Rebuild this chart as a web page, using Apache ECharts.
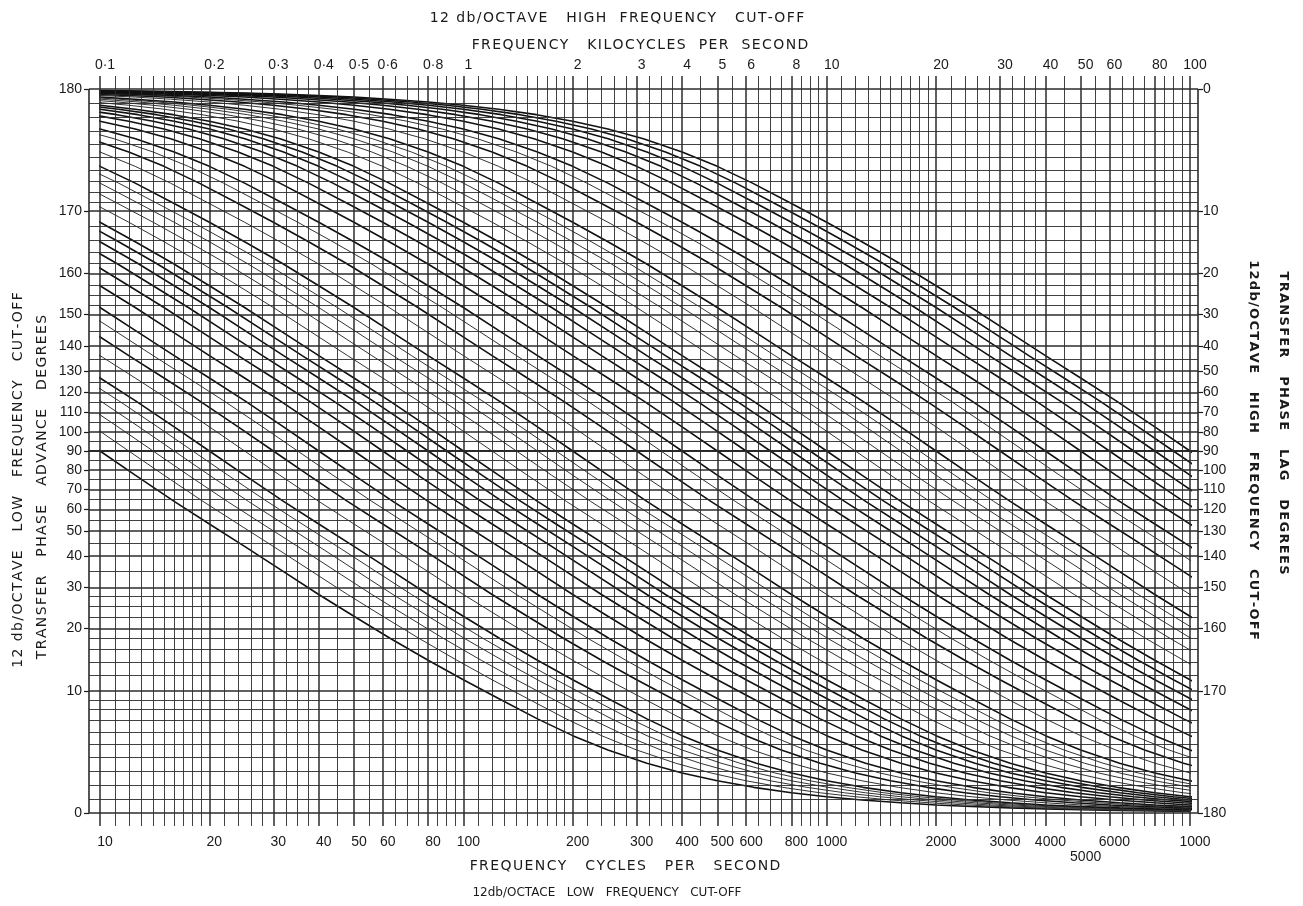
<!DOCTYPE html>
<html lang="en">
<head>
<meta charset="UTF-8">
<title>12 db/octave transfer phase chart</title>
<script src="https://cdn.jsdelivr.net/npm/echarts@6/dist/echarts.min.js"></script>
<style>
    html, body { margin: 0; padding: 0; background: #fff; }
    #chart { width: 1303px; height: 906px; }
</style>
</head>
<body>
<div id="chart"></div>
<script>
// phase axis of the sheet is not linear: where each labelled degree sits (90 deg = 0)
var phaseTicks = [0, 10, 20, 30, 40, 50, 60, 70, 80, 90, 100, 110, 120, 130, 140, 150, 160, 170, 180];
var phaseScale = [-362, -240, -177.5, -136.5, -105, -80, -58.5, -38.5, -19, 0, 19, 38.5, 58.5, 80, 105, 136.5, 177.5, 240, 362];

// horizontal rulings, degrees
var phaseRulings = [0, 1, 2, 3, 4, 5, 6, 7, 8, 9, 10, 12, 14, 16, 18, 20, 22.5, 25, 27.5, 30, 35, 40, 45, 50, 55,
    60, 65, 70, 75, 80, 85, 90, 95, 100, 105, 110, 115, 120, 125, 130, 135, 140, 145, 150, 152.5, 155, 157.5,
    160, 162, 164, 166, 168, 170, 171, 172, 173, 174, 175, 176, 177, 178, 179, 180];

// vertical rulings for one decade, c/s
var decadeRulings = [10, 11, 12, 13, 14, 15, 16, 17, 18, 19, 20, 22, 24, 26, 28, 30, 32.5, 35, 37.5,
    40, 45, 50, 55, 60, 65, 70, 75, 80, 85, 90, 95];

var bottomLabels = [10, 20, 30, 40, 50, 60, 80, 100, 200, 300, 400, 500, 600, 800, 1000,
    2000, 3000, 4000, 5000, 6000, 8000, 10000];
var topLabels = [0.1, 0.2, 0.3, 0.4, 0.5, 0.6, 0.8, 1, 2, 3, 4, 5, 6, 8, 10, 20, 30, 40, 50, 60, 80, 100];

// one curve: phase advance (deg) against f / cut-off
var shapeRatio = [0.001, 0.00125, 0.00159, 0.002, 0.0025, 0.00313, 0.004, 0.005, 0.00625, 0.008,
    0.01, 0.0125, 0.0159, 0.02, 0.025, 0.0313, 0.04, 0.05, 0.0625, 0.08,
    0.1, 0.125, 0.159, 0.2, 0.25, 0.3125, 0.4, 0.5, 0.625, 0.8,
    1, 1.25, 1.6, 2, 2.5, 3.2, 4, 5, 6.3, 8,
    10, 12.5, 16, 20, 25, 32, 40, 50, 63, 80,
    100, 125, 160, 200, 250, 320, 400, 500, 630, 800, 1000];
var shapePhase = [179.89, 179.86, 179.82, 179.77, 179.71, 179.64, 179.54, 179.43, 179.28, 179.08,
    178.85, 178.57, 178.18, 177.71, 177.14, 176.42, 175.42, 174.28, 172.85, 170.85,
    168.58, 165.75, 161.96, 157.38, 151.93, 145.29, 136.40, 126.87, 115.99, 102.68,
    90, 77.32, 64.01, 53.13, 43.60, 34.71, 28.07, 22.62, 18.04, 14.25,
    11.42, 9.15, 7.15, 5.72, 4.58, 3.58, 2.86, 2.29, 1.82, 1.43,
    1.15, 0.92, 0.72, 0.57, 0.46, 0.36, 0.29, 0.23, 0.18, 0.14, 0.11];

// cut-off frequency of every curve in the family, c/s
var cutoffs = [10, 12, 14, 16, 18, 20, 25, 30, 35, 40, 50, 60, 70, 80, 90,
    100, 120, 140, 160, 180, 200, 250, 300, 350, 400, 500, 600, 700, 800, 900,
    1000, 1200, 1400, 1600, 1800, 2000, 2500, 3000, 3500, 4000, 5000, 6000, 7000, 8000, 9000,
    10000];
var heavyCutoffs = [10, 20, 30, 40, 50, 60, 70, 80, 90, 100, 200, 300, 400, 500, 600, 700, 800, 900,
    1000, 2000, 3000, 4000, 5000, 6000, 7000, 8000, 9000, 10000];

// smooth (monotone cubic) reading of the phase scale between its labelled degrees
var scaleSlopes = (function () {
    var n = phaseTicks.length, d = [], m = [], i;
    for (i = 0; i < n - 1; i++) {
        d.push((phaseScale[i + 1] - phaseScale[i]) / (phaseTicks[i + 1] - phaseTicks[i]));
    }
    for (i = 1; i < n - 1; i++) m[i] = 2 * d[i - 1] * d[i] / (d[i - 1] + d[i]);
    m[0] = Math.max(d[0], (3 * d[0] - m[1]) / 2);
    m[n - 1] = Math.max(d[n - 2], (3 * d[n - 2] - m[n - 2]) / 2);
    return m;
})();

function toPos(p) {
    for (var i = 1; i < phaseTicks.length; i++) {
        if (p <= phaseTicks[i]) {
            var h = phaseTicks[i] - phaseTicks[i - 1];
            var t = (p - phaseTicks[i - 1]) / h;
            var t2 = t * t, t3 = t2 * t;
            return (2 * t3 - 3 * t2 + 1) * phaseScale[i - 1] + (t3 - 2 * t2 + t) * h * scaleSlopes[i - 1] +
                (-2 * t3 + 3 * t2) * phaseScale[i] + (t3 - t2) * h * scaleSlopes[i];
        }
    }
    return phaseScale[phaseScale.length - 1];
}

function phaseAt(pos) {
    for (var i = 0; i < phaseScale.length; i++) {
        if (Math.abs(phaseScale[i] - pos) < 0.01) return phaseTicks[i];
    }
    return '';
}

// hand lettering on the sheet is widely spaced
function spaced(s) {
    return s.split('').join('\u200a');
}

// sheet layout: 10 c/s line at x=100, 10 kc/s line at x=1190, frame from 89 to 1198
var decadePx = 1090 / 3;
var xMin = 10 / Math.pow(10, 11 / decadePx);
var xMax = 10000 * Math.pow(10, 8 / decadePx);
var ink = '#1a1a1a';
var font = 'Liberation Sans';

var freqRulings = [];
[1, 10, 100].forEach(function (m) {
    decadeRulings.forEach(function (f) { freqRulings.push(f * m); });
});
freqRulings.push(10000);

var rulings = [];
phaseRulings.forEach(function (p) {
    rulings.push({ yAxis: toPos(p), lineStyle: { width: p % 10 === 0 ? 1.5 : 0.9 } });
});
freqRulings.forEach(function (f) {
    rulings.push({ xAxis: f, lineStyle: { width: bottomLabels.indexOf(f) >= 0 ? 1.5 : 0.9 } });
});
// side frames run from 0 to 180 deg only
rulings.push([{ coord: [xMin, toPos(0)] }, { coord: [xMin, toPos(180)], lineStyle: { width: 1.6 } }]);
rulings.push([{ coord: [xMax, toPos(0)] }, { coord: [xMax, toPos(180)], lineStyle: { width: 1.6 } }]);

var series = [{
    type: 'line',
    xAxisIndex: 0,
    yAxisIndex: 0,
    data: [],
    silent: true,
    markLine: {
        silent: true,
        symbol: ['none', 'none'],
        label: { show: false },
        lineStyle: { type: 'solid', color: '#2b2b2b', width: 0.9 },
        emphasis: { disabled: true },
        data: rulings
    }
}];

cutoffs.forEach(function (fc) {
    var heavy = heavyCutoffs.indexOf(fc) >= 0;
    series.push({
        type: 'line',
        xAxisIndex: 2,
        yAxisIndex: 2,
        silent: true,
        symbol: 'none',
        z: 3,
        lineStyle: { color: heavy ? '#111' : '#333', width: heavy ? 1.6 : 1 },
        data: shapeRatio.map(function (r, i) { return [fc * r, toPos(shapePhase[i])]; })
    });
});

var labelStyle = { color: ink, fontFamily: font, fontSize: 14, showMinLabel: true, showMaxLabel: true };
var titleFont = '14px "DejaVu Sans"';

var option = {
    animation: false,
    backgroundColor: '#fff',
    grid: [
        { left: 89, right: 105, top: 76, bottom: 80 },
        { left: 100, right: 113, top: 76, bottom: 80 }
    ],
    xAxis: [
        {
            type: 'log', gridIndex: 0, position: 'bottom', min: xMin, max: xMax,
            axisLine: { show: true, lineStyle: { color: ink, width: 1.5 } },
            axisTick: { show: true, customValues: [5000], length: 20, lineStyle: { color: ink, width: 1.2 } },
            splitLine: { show: false },
            minorTick: { show: false },
            axisLabel: Object.assign({
                customValues: bottomLabels,
                margin: 9,
                lineHeight: 15,
                padding: [0, 0, 0, 10],
                formatter: function (v) {
                    if (Math.abs(v - 5000) < 1) return '\n5000';
                    if (Math.abs(v - 10000) < 1) return '1000';
                    return String(Math.round(v));
                }
            }, labelStyle)
        },
        {
            type: 'log', gridIndex: 0, position: 'top', min: xMin / 100, max: xMax / 100,
            axisLine: { show: true, lineStyle: { color: ink, width: 1.5 } },
            axisTick: { show: false },
            splitLine: { show: false },
            axisLabel: Object.assign({
                customValues: topLabels,
                margin: 4,
                padding: [0, 0, 0, 10],
                formatter: function (v) {
                    if (v < 0.95) return '0·' + Math.round(v * 10);
                    return String(Math.round(v));
                }
            }, labelStyle)
        },
        {
            type: 'log', gridIndex: 1, min: 10, max: 10000, show: false
        }
    ],
    yAxis: [
        {
            type: 'value', gridIndex: 0, position: 'left', min: -375, max: 375,
            axisLine: { show: false },
            axisTick: { show: true, customValues: phaseScale, length: 5, lineStyle: { color: ink, width: 1.2 } },
            splitLine: { show: false },
            axisLabel: Object.assign({
                customValues: phaseScale,
                margin: 7,
                formatter: function (v) { return String(phaseAt(v)); }
            }, labelStyle)
        },
        {
            type: 'value', gridIndex: 0, position: 'right', min: -375, max: 375,
            axisLine: { show: false },
            axisTick: { show: true, customValues: phaseScale, length: 5, lineStyle: { color: ink, width: 1.2 } },
            splitLine: { show: false },
            axisLabel: Object.assign({
                customValues: phaseScale,
                margin: 5,
                formatter: function (v) { var p = phaseAt(v); return p === '' ? '' : String(180 - p); }
            }, labelStyle)
        },
        {
            type: 'value', gridIndex: 1, min: -375, max: 375, show: false
        }
    ],
    graphic: [
        {
            type: 'text', x: 617, y: 18,
            style: { text: spaced('12 db/OCTAVE   HIGH  FREQUENCY   CUT-OFF'), fill: ink, font: titleFont, align: 'center', verticalAlign: 'middle' }
        },
        {
            type: 'text', x: 640, y: 45,
            style: { text: spaced('FREQUENCY   KILOCYCLES  PER  SECOND'), fill: ink, font: titleFont, align: 'center', verticalAlign: 'middle' }
        },
        {
            type: 'text', x: 625, y: 866,
            style: { text: spaced('FREQUENCY   CYCLES   PER   SECOND'), fill: ink, font: titleFont, align: 'center', verticalAlign: 'middle' }
        },
        {
            type: 'text', x: 607, y: 893,
            style: { text: '12db/OCTACE   LOW   FREQUENCY   CUT-OFF', fill: ink, font: '12px "DejaVu Sans"', align: 'center', verticalAlign: 'middle' }
        },
        {
            type: 'text', x: 18, y: 480, rotation: Math.PI / 2,
            style: { text: spaced('12 db/OCTAVE   LOW   FREQUENCY   CUT-OFF'), fill: ink, font: titleFont, align: 'center', verticalAlign: 'middle' }
        },
        {
            type: 'text', x: 42, y: 487, rotation: Math.PI / 2,
            style: { text: spaced('TRANSFER   PHASE   ADVANCE   DEGREES'), fill: ink, font: titleFont, align: 'center', verticalAlign: 'middle' }
        },
        {
            type: 'text', x: 1253, y: 450, rotation: -Math.PI / 2,
            style: { text: spaced('12db/OCTAVE   HIGH   FREQUENCY   CUT-OFF'), fill: ink, font: 'bold 13px "DejaVu Sans"', align: 'center', verticalAlign: 'middle' }
        },
        {
            type: 'text', x: 1283, y: 423, rotation: -Math.PI / 2,
            style: { text: spaced('TRANSFER   PHASE   LAG   DEGREES'), fill: ink, font: 'bold 13px "DejaVu Sans"', align: 'center', verticalAlign: 'middle' }
        }
    ],
    series: series
};

var chart = echarts.init(document.getElementById('chart'));
chart.setOption(option);
</script>
</body>
</html>
